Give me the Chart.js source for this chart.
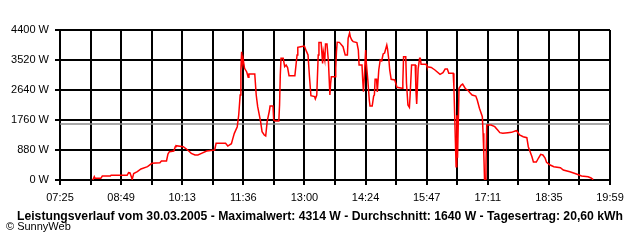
<!DOCTYPE html>
<html>
<head>
<meta charset="utf-8">
<script src="https://cdn.jsdelivr.net/npm/chart.js@4/dist/chart.umd.min.js"></script>
<style>
  html, body { margin: 0; padding: 0; background: #fff; }
</style>
</head>
<body>
<canvas id="grafico" width="640" height="240"></canvas>
<script>
const times = [
  '08:10','08:12','08:13','08:21','08:23','08:34','08:35','08:57','08:59','09:01',
  '09:04','09:06','09:11','09:16','09:25','09:31','09:42','09:44','09:51','09:53',
  '09:55','10:01','10:03','10:04','10:14','10:20','10:25','10:30','10:34','10:39',
  '10:46','10:57','10:59','11:12','11:15','11:20','11:22','11:24','11:28','11:30',
  '11:32','11:33','11:34','11:35','11:36','11:38','11:41','11:43','11:44','11:52',
  '11:54','11:56','12:00','12:02','12:05','12:07','12:09','12:12','12:13','12:17',
  '12:18','12:20','12:25','12:26','12:27','12:28','12:31','12:33','12:35','12:37',
  '12:39','12:47','12:50','12:51','12:55','13:00','13:03','13:05','13:07','13:09',
  '13:14','13:15','13:17','13:19','13:20','13:23','13:25','13:26','13:28','13:29',
  '13:31','13:33','13:35','13:36','13:37','13:42','13:43','13:44','13:45','13:48',
  '13:53','13:56','13:59','14:00','14:02','14:03','14:05','14:07','14:12','14:14',
  '14:15','14:19','14:20','14:21','14:22','14:24','14:25','14:27','14:29','14:30',
  '14:33','14:35','14:36','14:37','14:39','14:40','14:42','14:44','14:46','14:48',
  '14:50','14:53','14:54','14:56','14:57','14:59','15:04','15:07','15:14','15:15',
  '15:16','15:19','15:20','15:22','15:24','15:25','15:27','15:32','15:33','15:34',
  '15:36','15:38','15:39','15:40','15:47','15:48','15:54','15:59','16:06','16:10',
  '16:13','16:16','16:18','16:24','16:25','16:26','16:27','16:28','16:29','16:30',
  '16:32','16:35','16:37','16:41','16:44','16:47','16:50','16:55','16:57','17:00',
  '17:04','17:05','17:06','17:07','17:08','17:09','17:10','17:16','17:21','17:25',
  '17:28','17:32','17:39','17:44','17:49','17:51','17:55','18:00','18:05','18:07',
  '18:12','18:14','18:18','18:21','18:24','18:27','18:30','18:32','18:37','18:42',
  '18:51','18:55','19:04','19:13','19:20','19:29','19:33','19:36'
];
const power = [
  0, 97, 50, 50, 117, 117, 138, 138, 214, 205,
  20, 190, 244, 323, 391, 490, 508, 557, 557, 763,
  830, 850, 977, 1006, 977, 880, 783, 733, 733, 783,
  850, 880, 1076, 1076, 997, 1065, 1222, 1369, 1564, 1907,
  2493, 3277, 3764, 3420, 3560, 3275, 3170, 3012, 3110, 3110,
  2493, 2150, 1710, 1417, 1320, 1290, 1710, 2024, 2170, 2170,
  1760, 1730, 1730, 2200, 3080, 3570, 3570, 3325, 3373, 3300,
  3060, 3060, 3667, 3892, 3910, 3930, 3765, 3667, 3030, 2473,
  2445, 2376, 2493, 3667, 4037, 4037, 3420, 3765, 3520, 3990,
  3990, 3470, 2493, 2836, 3030, 3030, 3277, 3765, 4040, 4037,
  3910, 3667, 3667, 4156, 4314, 4200, 4107, 4057, 4030, 3813,
  3373, 3373, 2933, 2590, 2933, 3813, 3420, 2933, 2347, 2170,
  2170, 2464, 2493, 2953, 2953, 2580, 3227, 3520, 3490, 3696,
  3725, 3960, 3850, 3490, 3227, 2953, 2933, 2718, 2690, 2883,
  3617, 3617, 2836, 2200, 2132, 2493, 3373, 3373, 2610, 2230,
  3270, 3570, 3570, 3393, 3393, 3325, 3300, 3227, 3100, 3148,
  3256, 3256, 3130, 3130, 2737, 1956, 1173, 390, 1900, 655,
  2690, 2787, 2816, 2670, 2640, 2561, 2493, 2464, 2347, 2103,
  1857, 1370, 782, 0, 0, 440, 1613, 1613, 1564, 1467,
  1388, 1369, 1388, 1398, 1437, 1446, 1320, 1270, 1241, 977,
  684, 528, 528, 645, 754, 733, 645, 519, 440, 390,
  361, 293, 244, 176, 117, 97, 59, 10
];

// Achsen
const xTickLabels = ['07:25', '08:49', '10:13', '11:36', '13:00', '14:24', '15:47', '17:11', '18:35', '19:59'];
const xGridCount = 18;
const yTicks = [0, 880, 1760, 2640, 3520, 4400];

// Kennzahlen
const dateText = '30.03.2005';
const maxPower = 4314;
const avgPower = 1640;
const dayYield = '20,60';

function toMinutes(t) {
    const [h, m] = t.split(':').map(Number);
    return h * 60 + m;
}

const xMin = toMinutes(xTickLabels[0]);
const xMax = toMinutes(xTickLabels[xTickLabels.length - 1]);
const fontFamily = "'Liberation Sans', Arial, sans-serif";

const ctx = document.getElementById('grafico').getContext('2d');

new Chart(ctx, {
    type: 'line',
    data: {
        datasets: [{
            label: 'Leistung',
            data: times.map((t, i) => ({ x: toMinutes(t), y: power[i] })),
            borderColor: '#ff0000',
            borderWidth: 1.5,
            pointRadius: 0,
            tension: 0,
            order: 1
        }, {
            label: 'Durchschnitt',
            data: [{ x: xMin, y: avgPower }, { x: xMax, y: avgPower }],
            borderColor: '#8c8c8c',
            borderWidth: 1.5,
            pointRadius: 0,
            order: 2
        }]
    },
    options: {
        responsive: false,
        animation: false,
        layout: { padding: { left: 6, right: 6, top: 30, bottom: 9 } },
        plugins: {
            legend: { display: false },
            tooltip: { enabled: false },
            title: {
                display: true,
                position: 'bottom',
                weight: 1000,
                text: `Leistungsverlauf vom ${dateText} - Maximalwert: ${maxPower} W - Durchschnitt: ${avgPower} W - Tagesertrag: ${dayYield} kWh`,
                color: '#000',
                font: { family: fontFamily, size: 12.2, weight: 'bold', lineHeight: '13px' },
                padding: { top: 3, bottom: 0 }
            },
            subtitle: {
                display: true,
                position: 'bottom',
                weight: 2500,
                align: 'start',
                text: '© SunnyWeb',
                color: '#000',
                font: { family: fontFamily, size: 11, lineHeight: '8px' },
                padding: { top: 0, bottom: 0 }
            }
        },
        scales: {
            x: {
                type: 'linear',
                min: xMin,
                max: xMax,
                afterBuildTicks: scale => {
                    const step = (xMax - xMin) / xGridCount;
                    scale.ticks = [];
                    for (let i = 0; i <= xGridCount; i++) scale.ticks.push({ value: xMin + i * step });
                },
                afterFit: scale => { scale.height = 27; },
                grid: { color: '#000', lineWidth: 2, tickLength: 5 },
                border: { color: '#000', width: 2 },
                ticks: {
                    autoSkip: false,
                    maxRotation: 0,
                    padding: 6,
                    color: '#000',
                    font: { family: fontFamily, size: 11 },
                    callback: (v, i) => i % 2 === 0 ? xTickLabels[i / 2] : ''
                }
            },
            y: {
                min: 0,
                max: 4400,
                afterBuildTicks: scale => { scale.ticks = yTicks.map(v => ({ value: v })); },
                afterFit: scale => { scale.width = 54; },
                grid: { color: '#000', lineWidth: 2, tickLength: 5 },
                border: { color: '#000', width: 2 },
                ticks: {
                    padding: 6,
                    color: '#000',
                    font: { family: fontFamily, size: 11 },
                    callback: v => v + ' W'
                }
            },
            y2: {
                position: 'right',
                grid: { display: false },
                border: { display: false },
                ticks: { display: false },
                afterFit: scale => { scale.width = 24; }
            }
        }
    }
});
</script>
</body>
</html>
